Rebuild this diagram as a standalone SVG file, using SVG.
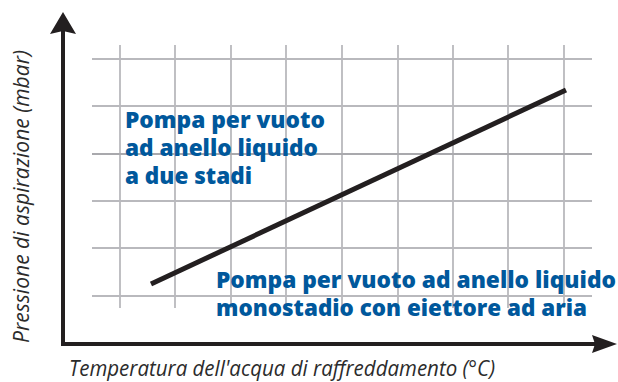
<svg xmlns="http://www.w3.org/2000/svg" width="618" height="382" viewBox="0 0 618 382">
<style>
.grid line{stroke:#b9b9bd;stroke-width:1.8}
.axis{stroke:#231f20;stroke-width:4;fill:none}
.head{fill:#231f20}
.lbl{font-family:"Open Sans","Liberation Sans",sans-serif;font-weight:800;font-size:22.5px;fill:#00589c}
.ax{font-family:"Open Sans","Liberation Sans",sans-serif;font-style:italic;font-size:21px;fill:#2b2b2b}
</style>
<rect width="618" height="382" fill="#fff"/>
<g id="grid" class="grid">
<line x1="120" y1="45" x2="120" y2="308"/>
<line x1="175" y1="45" x2="175" y2="308"/>
<line x1="231" y1="45" x2="231" y2="308"/>
<line x1="286" y1="45" x2="286" y2="308"/>
<line x1="342" y1="45" x2="342" y2="308"/>
<line x1="398" y1="45" x2="398" y2="308"/>
<line x1="453" y1="45" x2="453" y2="308"/>
<line x1="508" y1="45" x2="508" y2="308"/>
<line x1="564" y1="45" x2="564" y2="308"/>
<line x1="92" y1="59" x2="592" y2="59"/>
<line x1="92" y1="106" x2="592" y2="106"/>
<line x1="92" y1="154" x2="592" y2="154" style="stroke:#a9a9ad"/>
<line x1="92" y1="201" x2="592" y2="201"/>
<line x1="92" y1="248" x2="592" y2="248"/>
<line x1="92" y1="296" x2="592" y2="296"/>
</g>
<g id="axes">
<path class="axis" d="M63 30 V344 H596"/>
<path class="head" d="M63 12 L76 34 L63 31 L50 34 Z"/>
<path class="head" d="M617 344 L592 335 L595 344 L592 353 Z"/>
</g>
<g id="connectors">
<line x1="151" y1="284" x2="566" y2="90" stroke="#231f20" stroke-width="5"/>
</g>
<g id="label-two-stage">
<text class="lbl" x="125" y="128" textLength="200" lengthAdjust="spacingAndGlyphs">Pompa per vuoto</text>
<text class="lbl" x="125" y="156" textLength="193" lengthAdjust="spacingAndGlyphs">ad anello liquido</text>
<text class="lbl" x="125" y="184" textLength="127" lengthAdjust="spacingAndGlyphs">a due stadi</text>
</g>
<g id="label-single-stage">
<text class="lbl" x="216" y="288" textLength="400" lengthAdjust="spacingAndGlyphs">Pompa per vuoto ad anello liquido</text>
<text class="lbl" x="216" y="316" textLength="371" lengthAdjust="spacingAndGlyphs">monostadio con eiettore ad aria</text>
</g>
<g id="axis-labels">
<text class="ax" transform="translate(29,343) rotate(-90)" textLength="293" lengthAdjust="spacingAndGlyphs">Pressione di aspirazione (mbar)</text>
<text class="ax" x="69" y="376" textLength="426" lengthAdjust="spacingAndGlyphs">Temperatura dell'acqua di raffreddamento (°C)</text>
</g>
</svg>
